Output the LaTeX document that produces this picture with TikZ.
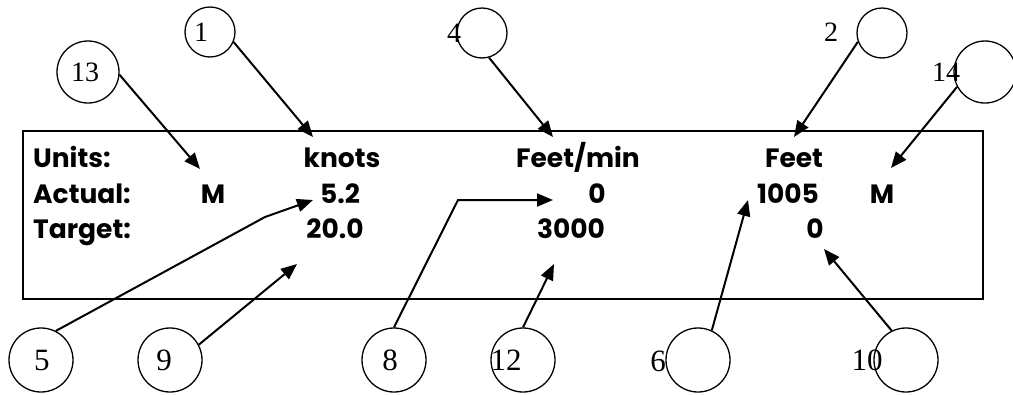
\documentclass[tikz,border=0pt]{standalone}
\usepackage{fontspec}
\setmainfont{Liberation Serif}
\newfontfamily\gothic{Poppins}
\usetikzlibrary{arrows.meta}
\begin{document}
\begin{tikzpicture}[x=1pt,y=-1pt,
  num/.style={circle,draw,line width=1.3pt,minimum size=50pt,inner sep=0pt},
  bignum/.style={num,minimum size=62pt},
  botnum/.style={num,minimum size=64pt},
  lab/.style={font=\fontsize{28}{28}\selectfont, inner sep=0pt},
  botlab/.style={font=\fontsize{31}{31}\selectfont, inner sep=0pt},
  txt/.style={font=\gothic\bfseries\fontsize{26.5}{26.5}\selectfont, inner sep=0pt, anchor=base},
  ltxt/.style={txt, anchor=base west},
  arr/.style={line width=2pt,-{Triangle[length=16pt,width=13pt]}}
]
\useasboundingbox (0,0) rectangle (1013,394);
\node[draw, line width=2pt, minimum width=960pt, minimum height=168pt, anchor=north west, inner sep=0pt, outer sep=0pt] (box) at (23,131) {};

% texts
\node[ltxt] (units) at (33,167) {Units:};
\node[ltxt] (actual) at (33,203) {Actual:};
\node[ltxt] (target) at (33,238) {Target:};
\node[txt] (knots) at (342,167) {knots};
\node[txt] (fpm) at (578,167) {Feet/min};
\node[txt] (feet) at (794,167) {Feet};
\node[txt] (m1) at (213,203) {M};
\node[txt] (v52) at (340,203) {5.2};
\node[txt] (v0a) at (597,203) {0};
\node[txt] (v1005) at (788,203) {1005};
\node[txt] (m2) at (882,203) {M};
\node[txt] (v200) at (335,238) {20.0};
\node[txt] (v3000) at (571,238) {3000};
\node[txt] (v0b) at (815,238) {0};

% circles
\node[num] (c1) at (210,32) {};
\node[num] (c4) at (482,33) {};
\node[num] (c2) at (882,33) {};
\node[bignum] (c13) at (88,72) {};
\node[bignum] (c14) at (985,72) {};
\node[botnum] (c5) at (41,360) {};
\node[botnum] (c9) at (170,360) {};
\node[botnum] (c8) at (394,360) {};
\node[botnum] (c12) at (523,360) {};
\node[botnum] (c6) at (698,360) {};
\node[botnum] (c10) at (906,360) {};

% labels
\node[lab] (l1) at (201,32) {1};
\node[lab] (l4) at (454,33) {4};
\node[lab] (l2) at (831,32) {2};
\node[lab] (l13) at (85,72) {13};
\node[lab] (l14) at (946,72) {14};
\node[botlab] (l5) at (42,360) {5};
\node[botlab] (l9) at (164,360) {9};
\node[botlab] (l8) at (390,360) {8};
\node[botlab] (l12) at (506,360) {12};
\node[botlab] (l6) at (658,361) {6};
\node[botlab] (l10) at (867,360) {10};

% arrow tips
\coordinate (t13) at (200,169);
\coordinate (t1) at (313,137);
\coordinate (t4) at (553,137);
\coordinate (t2) at (794,137);
\coordinate (t14) at (891,168);
\coordinate (b5) at (265,217);
\coordinate (t5) at (313,200);
\coordinate (t9) at (297,264);
\coordinate (b8) at (458,200);
\coordinate (t8) at (553,200);
\coordinate (t12) at (554,264);
\coordinate (t6) at (748,200);
\coordinate (t10) at (824,249);

\draw[arr] (c13.-5) -- (t13);
\draw[arr] (c1.-23) -- (t1);
\draw[arr] (c4.-74) -- (t4);
\draw[arr] (c2.200) -- (t2);
\draw[arr] (c14.208) -- (t14);
\draw[arr] (c5.63) -- (b5) -- (t5);
\draw[arr] (c9.28) -- (t9);
\draw[arr] (c8.90) -- (b8) -- (t8);
\draw[arr] (c12.90) -- (t12);
\draw[arr] (c6.65) -- (t6);
\draw[arr] (c10.116) -- (t10);
\end{tikzpicture}
\end{document}
